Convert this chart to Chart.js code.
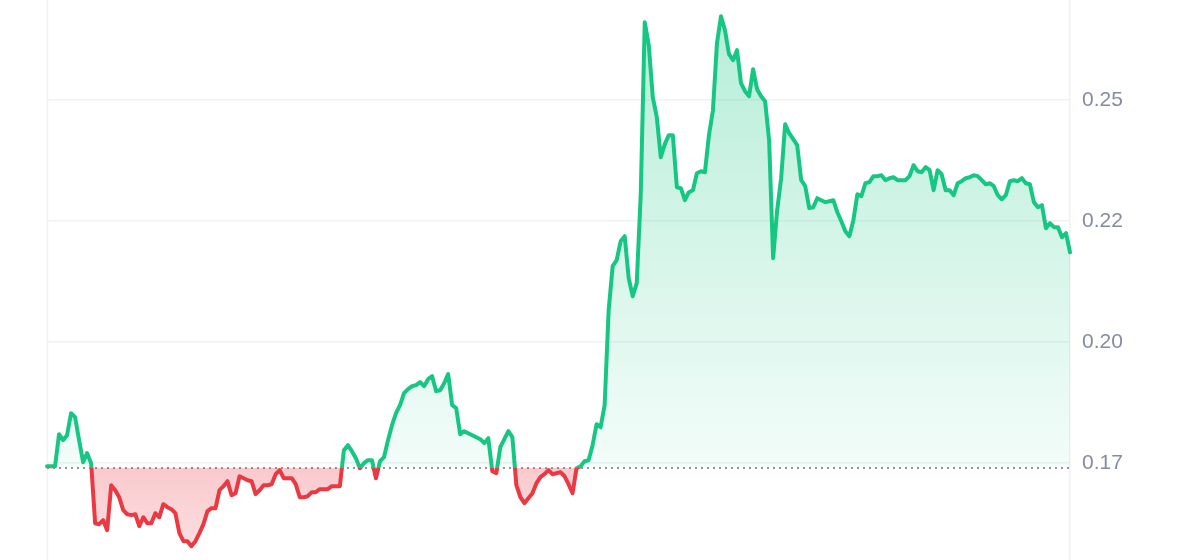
<!DOCTYPE html>
<html>
<head>
<meta charset="utf-8">
<script src="https://cdn.jsdelivr.net/npm/chart.js@4.4.1/dist/chart.umd.min.js"></script>
<style>
  html, body { margin: 0; padding: 0; background: #fff; }
  #wrap { width: 1200px; height: 560px; position: relative; }
</style>
</head>
<body>
<div id="wrap"><canvas id="priceChart"></canvas></div>
<script>
// price history, evenly spaced samples
var prices = [
  0.17438, 0.17438, 0.17438, 0.18099, 0.17975, 0.18079, 0.18533, 0.18450, 0.17975, 0.17521, 0.17707, 0.17500, 0.16260, 0.16240, 0.16322, 0.16116,
  0.17045, 0.16942, 0.16797, 0.16529, 0.16446, 0.16426, 0.16446, 0.16198, 0.16384, 0.16260, 0.16260, 0.16467, 0.16384, 0.16653, 0.16591, 0.16550,
  0.16467, 0.16054, 0.15888, 0.15888, 0.15785, 0.15888, 0.16054, 0.16240, 0.16508, 0.16570, 0.16570, 0.16942, 0.17025, 0.17128, 0.16839, 0.16880,
  0.17231, 0.17190, 0.17149, 0.17128, 0.16860, 0.16942, 0.17045, 0.17045, 0.17066, 0.17273, 0.17355, 0.17190, 0.17190, 0.17190, 0.17066, 0.16797,
  0.16797, 0.16818, 0.16901, 0.16901, 0.16963, 0.16963, 0.16963, 0.17025, 0.17025, 0.17025, 0.17769, 0.17872, 0.17748, 0.17603, 0.17397, 0.17500,
  0.17562, 0.17562, 0.17190, 0.17541, 0.17624, 0.17975, 0.18285, 0.18533, 0.18698, 0.18946, 0.19029, 0.19091, 0.19112, 0.19174, 0.19091, 0.19236,
  0.19298, 0.18988, 0.19008, 0.19153, 0.19339, 0.18698, 0.18636, 0.18099, 0.18161, 0.18120, 0.18079, 0.18037, 0.17996, 0.17913, 0.18017, 0.17335,
  0.17293, 0.17831, 0.17996, 0.18161, 0.18037, 0.17045, 0.16797, 0.16674, 0.16777, 0.16880, 0.17087, 0.17211, 0.17273, 0.17355, 0.17273, 0.17293,
  0.17314, 0.17231, 0.17066, 0.16880, 0.17397, 0.17438, 0.17541, 0.17562, 0.17872, 0.18306, 0.18244, 0.18698, 0.20661, 0.21570, 0.21694, 0.22087,
  0.22190, 0.21322, 0.20950, 0.21219, 0.23058, 0.26612, 0.26136, 0.25062, 0.24649, 0.23822, 0.24091, 0.24277, 0.24277, 0.23202, 0.23182, 0.22934,
  0.23099, 0.23140, 0.23492, 0.23533, 0.23512, 0.24277, 0.24793, 0.26178, 0.26735, 0.26446, 0.25950, 0.25826, 0.26033, 0.25351, 0.25186, 0.25083,
  0.25640, 0.25227, 0.25083, 0.24979, 0.24174, 0.21736, 0.22727, 0.23388, 0.24504, 0.24318, 0.24194, 0.24070, 0.23347, 0.23223, 0.22769, 0.22789,
  0.22975, 0.22934, 0.22893, 0.22913, 0.22934, 0.22686, 0.22500, 0.22293, 0.22190, 0.22521, 0.23058, 0.23016, 0.23285, 0.23306, 0.23430, 0.23430,
  0.23450, 0.23347, 0.23388, 0.23409, 0.23347, 0.23347, 0.23347, 0.23430, 0.23657, 0.23533, 0.23512, 0.23616, 0.23554, 0.23140, 0.23554, 0.23471,
  0.23140, 0.23140, 0.23037, 0.23285, 0.23326, 0.23388, 0.23409, 0.23450, 0.23430, 0.23347, 0.23264, 0.23285, 0.23223, 0.23037, 0.22954, 0.23037,
  0.23326, 0.23347, 0.23326, 0.23388, 0.23285, 0.23264, 0.22893, 0.22789, 0.22831, 0.22355, 0.22459, 0.22376, 0.22376, 0.22169, 0.22252, 0.21859
];
var labels = prices.map(function (p, i) { return i; });

// price at the start of the period (dotted reference line)
var openPrice = 0.1740;

// y axis
var yMin = 0.155;
var yMax = 0.2707;
var tickValues = [0.175, 0.20, 0.225, 0.25];
var tickLabels = ['0.17', '0.20', '0.22', '0.25'];

var GREEN = '#16c784';
var RED = '#ea3943';
var GRID = '#eff2f5';

// vertical split of colours at the open price
function splitGradient(chart, topColors, bottomColors) {
  var area = chart.chartArea;
  var ctx = chart.ctx;
  var baseY = chart.scales.y.getPixelForValue(openPrice);
  var f = (baseY - area.top) / (area.bottom - area.top);
  f = Math.min(Math.max(f, 0), 1);
  var g = ctx.createLinearGradient(0, area.top, 0, area.bottom);
  g.addColorStop(0, topColors[0]);
  g.addColorStop(f, topColors[1]);
  g.addColorStop(f, bottomColors[0]);
  g.addColorStop(1, bottomColors[1]);
  return g;
}

// dotted open-price line + left border of the plot
var refLines = {
  id: 'refLines',
  beforeDatasetsDraw: function (chart) {
    var ctx = chart.ctx, area = chart.chartArea;
    var y = Math.round(chart.scales.y.getPixelForValue(openPrice));
    ctx.save();
    ctx.strokeStyle = GRID;
    ctx.lineWidth = 1.5;
    ctx.beginPath();
    ctx.moveTo(area.left + 0.5, 0);
    ctx.lineTo(area.left + 0.5, chart.height);
    ctx.stroke();
    ctx.strokeStyle = '#8f95a1';
    ctx.lineWidth = 2;
    ctx.setLineDash([2, 4]);
    ctx.beginPath();
    ctx.moveTo(area.left, y);
    ctx.lineTo(area.right, y);
    ctx.stroke();
    ctx.restore();
  }
};

var ctx = document.getElementById('priceChart');
var priceChart = new Chart(ctx, {
  type: 'line',
  data: {
    labels: labels,
    datasets: [{
      data: prices,
      borderWidth: 4,
      borderJoinStyle: 'round',
      borderCapStyle: 'round',
      pointRadius: 0,
      tension: 0,
      fill: { target: { value: openPrice } },
      borderColor: function (c) {
        if (!c.chart.chartArea) return GREEN;
        return splitGradient(c.chart, [GREEN, GREEN], [RED, RED]);
      },
      backgroundColor: function (c) {
        if (!c.chart.chartArea) return 'rgba(22,199,132,0.15)';
        return splitGradient(c.chart,
          ['rgba(22,199,132,0.32)', 'rgba(22,199,132,0.05)'],
          ['rgba(234,57,67,0.27)', 'rgba(234,57,67,0.15)']);
      }
    }]
  },
  options: {
    responsive: true,
    maintainAspectRatio: false,
    animation: false,
    layout: { padding: { left: 47, right: 0, top: 0, bottom: 0 } },
    plugins: {
      legend: { display: false },
      tooltip: { enabled: false }
    },
    scales: {
      x: { display: false },
      y: {
        position: 'right',
        min: yMin,
        max: yMax,
        afterBuildTicks: function (scale) {
          scale.ticks = tickValues.map(function (v) { return { value: v }; });
        },
        afterFit: function (scale) {
          scale.width = 130;
          scale.paddingTop = 0;
          scale.paddingBottom = 0;
        },
        grid: { color: GRID, lineWidth: 1.5, drawTicks: false },
        border: { display: true, color: GRID, width: 1.5 },
        ticks: {
          padding: 12,
          color: '#858ca2',
          font: { family: '"Liberation Sans", Arial, sans-serif', size: 21 },
          callback: function (v) {
            var i = tickValues.indexOf(v);
            return i >= 0 ? tickLabels[i] : '';
          }
        }
      }
    }
  },
  plugins: [refLines]
});
</script>
</body>
</html>
